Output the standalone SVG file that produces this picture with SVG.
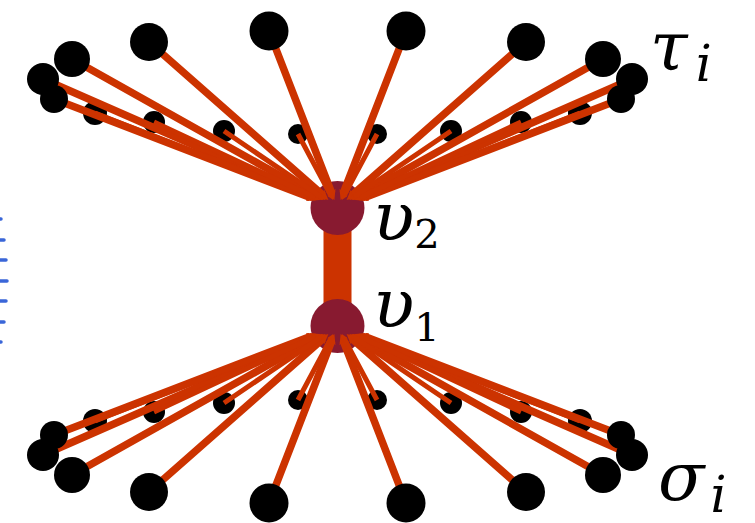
<svg xmlns="http://www.w3.org/2000/svg" width="755" height="523" viewBox="0 0 755 523">
<style>
.e{stroke:#cc3300;fill:none;stroke-linecap:butt}
.w8{stroke-width:7.5;stroke-dasharray:0 7 3000 0;marker-start:url(#tip)}
.w5{stroke-width:5;stroke-dasharray:0 5 3000 0;marker-start:url(#tip)}
.hub{fill:#881a30}
.n{fill:#000}
.lab{font-family:"DejaVu Serif","Liberation Serif",serif;fill:#000}
.it{font-style:italic}
.dash{stroke:#3a66d8;stroke-width:3.5;stroke-linecap:round}
</style>
<defs>
<marker id="tip" viewBox="0 0 10 10" refX="10" refY="5" markerWidth="1.35" markerHeight="1.35" orient="auto-start-reverse" markerUnits="strokeWidth"><path d="M0,0 L10,5 L0,10 L2.5,5 z" fill="#cc3300"/></marker>
</defs>
<rect width="755" height="523" fill="#fff"/>
<g id="marks">
<line class="dash" x1="0" y1="219" x2="1" y2="219"/>
<line class="dash" x1="0" y1="240" x2="4" y2="240"/>
<line class="dash" x1="0" y1="260" x2="6" y2="260"/>
<line class="dash" x1="0" y1="281" x2="7" y2="281"/>
<line class="dash" x1="0" y1="301" x2="6" y2="301"/>
<line class="dash" x1="0" y1="322" x2="4" y2="322"/>
<line class="dash" x1="0" y1="342" x2="1" y2="342"/>
</g>
<g id="bar"><rect x="323.5" y="208" width="28" height="118" fill="#cc3300"/></g>
<g id="v2"><circle class="hub" cx="337.5" cy="208" r="27"/></g>
<g id="v1"><circle class="hub" cx="337.5" cy="326" r="27"/></g>
<g id="inner-leaves">
<circle class="n" cx="95" cy="113" r="12"/><circle class="n" cx="154" cy="122" r="11"/><circle class="n" cx="224" cy="131" r="11"/><circle class="n" cx="298" cy="134" r="10"/>
<circle class="n" cx="580" cy="113" r="12"/><circle class="n" cx="521" cy="122" r="11"/><circle class="n" cx="451" cy="131" r="11"/><circle class="n" cx="377" cy="134" r="10"/>
<circle class="n" cx="95" cy="421" r="12"/><circle class="n" cx="154" cy="412" r="11"/><circle class="n" cx="224" cy="403" r="11"/><circle class="n" cx="298" cy="400" r="10"/>
<circle class="n" cx="580" cy="421" r="12"/><circle class="n" cx="521" cy="412" r="11"/><circle class="n" cx="451" cy="403" r="11"/><circle class="n" cx="377" cy="400" r="10"/>
</g>
<g id="connectors">
<line class="e w8" x1="334.4" y1="200" x2="269" y2="31"/>
<line class="e w8" x1="328.4" y1="200" x2="149" y2="42"/>
<line class="e w8" x1="323.2" y1="200" x2="72" y2="59"/>
<line class="e w8" x1="319.2" y1="200" x2="43" y2="79"/>
<line class="e w8" x1="316.8" y1="200" x2="54" y2="99"/>
<line class="e w5" x1="317.1" y1="200" x2="95" y2="113"/>
<line class="e w5" x1="320.4" y1="200" x2="154" y2="122"/>
<line class="e w5" x1="325.7" y1="200" x2="224" y2="131"/>
<line class="e w5" x1="333.2" y1="200" x2="298" y2="134"/>
<line class="e w8" x1="340.6" y1="200" x2="406" y2="31"/>
<line class="e w8" x1="346.6" y1="200" x2="526" y2="42"/>
<line class="e w8" x1="351.8" y1="200" x2="603" y2="59"/>
<line class="e w8" x1="355.8" y1="200" x2="632" y2="79"/>
<line class="e w8" x1="358.2" y1="200" x2="621" y2="99"/>
<line class="e w5" x1="357.9" y1="200" x2="580" y2="113"/>
<line class="e w5" x1="354.6" y1="200" x2="521" y2="122"/>
<line class="e w5" x1="349.3" y1="200" x2="451" y2="131"/>
<line class="e w5" x1="341.8" y1="200" x2="377" y2="134"/>
<line class="e w8" x1="334.4" y1="334" x2="269" y2="503"/>
<line class="e w8" x1="328.4" y1="334" x2="149" y2="492"/>
<line class="e w8" x1="323.2" y1="334" x2="72" y2="475"/>
<line class="e w8" x1="319.2" y1="334" x2="43" y2="455"/>
<line class="e w8" x1="316.8" y1="334" x2="54" y2="435"/>
<line class="e w5" x1="317.1" y1="334" x2="95" y2="421"/>
<line class="e w5" x1="320.4" y1="334" x2="154" y2="412"/>
<line class="e w5" x1="325.7" y1="334" x2="224" y2="403"/>
<line class="e w5" x1="333.2" y1="334" x2="298" y2="400"/>
<line class="e w8" x1="340.6" y1="334" x2="406" y2="503"/>
<line class="e w8" x1="346.6" y1="334" x2="526" y2="492"/>
<line class="e w8" x1="351.8" y1="334" x2="603" y2="475"/>
<line class="e w8" x1="355.8" y1="334" x2="632" y2="455"/>
<line class="e w8" x1="358.2" y1="334" x2="621" y2="435"/>
<line class="e w5" x1="357.9" y1="334" x2="580" y2="421"/>
<line class="e w5" x1="354.6" y1="334" x2="521" y2="412"/>
<line class="e w5" x1="349.3" y1="334" x2="451" y2="403"/>
<line class="e w5" x1="341.8" y1="334" x2="377" y2="400"/>
</g>
<g id="outer-leaves">
<circle class="n" cx="54" cy="99" r="14"/><circle class="n" cx="43" cy="79" r="16"/><circle class="n" cx="72" cy="59" r="18"/><circle class="n" cx="149" cy="42" r="19"/><circle class="n" cx="269" cy="31" r="19.5"/>
<circle class="n" cx="621" cy="99" r="14"/><circle class="n" cx="632" cy="79" r="16"/><circle class="n" cx="603" cy="59" r="18"/><circle class="n" cx="526" cy="42" r="19"/><circle class="n" cx="406" cy="31" r="19.5"/>
<circle class="n" cx="54" cy="435" r="14"/><circle class="n" cx="43" cy="455" r="16"/><circle class="n" cx="72" cy="475" r="18"/><circle class="n" cx="149" cy="492" r="19"/><circle class="n" cx="269" cy="503" r="19.5"/>
<circle class="n" cx="621" cy="435" r="14"/><circle class="n" cx="632" cy="455" r="16"/><circle class="n" cx="603" cy="475" r="18"/><circle class="n" cx="526" cy="492" r="19"/><circle class="n" cx="406" cy="503" r="19.5"/>
</g>
<g id="labels">
<text class="lab" x="373" y="240"><tspan class="it" font-size="68">υ</tspan><tspan font-size="40" dy="8">2</tspan></text>
<text class="lab" x="373" y="327"><tspan class="it" font-size="68">υ</tspan><tspan font-size="40" dy="14">1</tspan></text>
<text class="lab" x="650" y="70"><tspan class="it" font-size="68">τ</tspan><tspan class="it" font-size="50" dx="8" dy="11">i</tspan></text>
<text class="lab" x="658" y="500"><tspan class="it" font-size="68">σ</tspan><tspan class="it" font-size="50" dx="6" dy="12">i</tspan></text>
</g>
</svg>
